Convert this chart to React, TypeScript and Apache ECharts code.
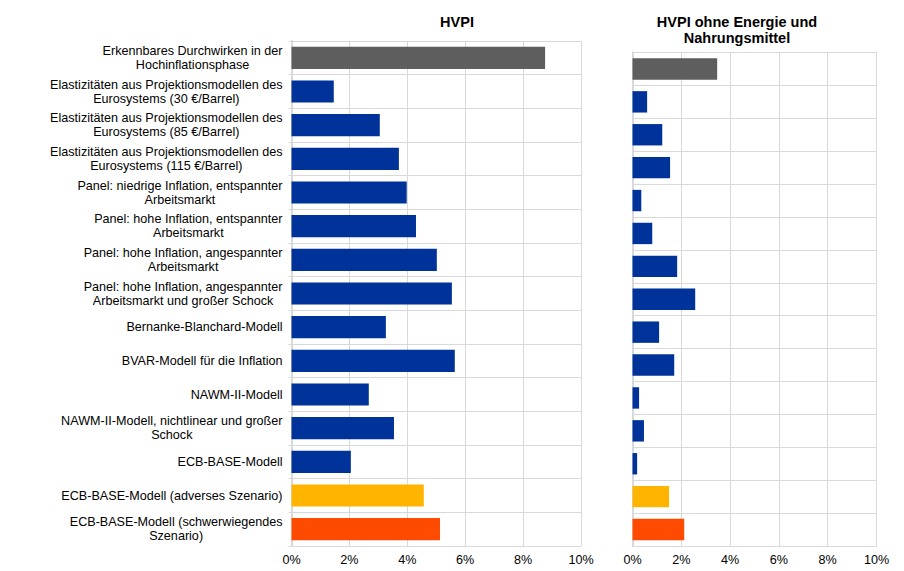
import React, { useEffect, useRef } from "react";
import * as echarts from "echarts";

const categories: string[] = [
  "Erkennbares Durchwirken in der\nHochinflationsphase",
  "Elastizitäten aus Projektionsmodellen des\nEurosystems (30 €/Barrel)",
  "Elastizitäten aus Projektionsmodellen des\nEurosystems (85 €/Barrel)",
  "Elastizitäten aus Projektionsmodellen des\nEurosystems (115 €/Barrel)",
  "Panel: niedrige Inflation, entspannter\nArbeitsmarkt",
  "Panel: hohe Inflation, entspannter\nArbeitsmarkt",
  "Panel: hohe Inflation, angespannter\nArbeitsmarkt",
  "Panel: hohe Inflation, angespannter\nArbeitsmarkt und großer Schock",
  "Bernanke-Blanchard-Modell",
  "BVAR-Modell für die Inflation",
  "NAWM-II-Modell",
  "NAWM-II-Modell, nichtlinear und großer\nSchock",
  "ECB-BASE-Modell",
  "ECB-BASE-Modell (adverses Szenario)",
  "ECB-BASE-Modell (schwerwiegendes\nSzenario)",
];

const groups: string[] = [
  "historisch",
  "modell", "modell", "modell", "modell", "modell", "modell", "modell",
  "modell", "modell", "modell", "modell", "modell",
  "advers",
  "schwer",
];

const hvpiValues: number[] = [8.76, 1.46, 3.05, 3.71, 3.98, 4.3, 5.02, 5.54, 3.26, 5.64, 2.67, 3.54, 2.05, 4.57, 5.13];
const coreValues: number[] = [3.47, 0.6, 1.22, 1.54, 0.36, 0.81, 1.83, 2.57, 1.09, 1.71, 0.27, 0.47, 0.19, 1.5, 2.12];

const xTicks = { min: 0, max: 10, interval: 2 };

const titleLeft = "HVPI";
const titleRight = "HVPI ohne Energie und\nNahrungsmittel";

const palette: Record<string, string> = {
  historisch: "#5e5e5e",
  modell: "#003399",
  advers: "#ffb400",
  schwer: "#ff4b00",
};

const FONT = "'Liberation Sans', Arial, sans-serif";
const GRID_COLOR = "#d9d9d9";
const LABEL_SIZE = 12.6;

export default function App() {
  const ref = useRef<HTMLDivElement>(null);
  useEffect(() => {
    if (!ref.current) return;
    const chart = echarts.init(ref.current, null, { renderer: "svg" });
    const mkData = (vals: number[]) =>
      vals.map((v, i) => ({ value: v, itemStyle: { color: palette[groups[i]] } }));

    const xAxisBase = (gridIndex: number) => ({
      type: "value" as const,
      gridIndex,
      min: xTicks.min,
      max: xTicks.max,
      interval: xTicks.interval,
      axisLine: { show: true, lineStyle: { color: GRID_COLOR, width: 1 } },
      axisTick: { show: false },
      splitLine: { show: true, lineStyle: { color: GRID_COLOR, width: 1 } },
      axisLabel: {
        formatter: "{value}%",
        color: "#000",
        fontFamily: FONT,
        fontSize: LABEL_SIZE,
        margin: 7,
      },
    });

    const yAxisBase = (gridIndex: number, showLabels: boolean) => ({
      type: "category" as const,
      gridIndex,
      data: categories,
      inverse: true,
      axisLine: { show: true, lineStyle: { color: GRID_COLOR, width: 2 } },
      axisTick: { show: showLabels, length: 3, lineStyle: { color: GRID_COLOR, width: 1 } },
      splitLine: { show: true, lineStyle: { color: GRID_COLOR, width: 1 } },
      axisLabel: {
        show: showLabels,
        margin: 9,
        align: "right" as const,
        color: "#000",
        fontFamily: FONT,
        fontSize: LABEL_SIZE,
        lineHeight: 14,
        formatter: (v: string) =>
          v
            .split("\n")
            .map((l) => "{c|" + l + "}")
            .join("\n"),
        rich: {
          c: { align: "center", fontFamily: FONT, fontSize: LABEL_SIZE, lineHeight: 14, color: "#000" },
        },
      },
    });

    const titleStyle = { fontFamily: FONT, fontSize: 14.5, fontWeight: "bold", color: "#000", lineHeight: 16 };

    chart.setOption({
      animation: false,
      backgroundColor: "#fff",
      title: [
        { text: titleLeft, left: 452, top: 9, textAlign: "center", textStyle: titleStyle },
        { text: titleRight, left: 732, top: 9, textAlign: "center", textStyle: titleStyle },
      ],
      grid: [
        { left: 291.5, top: 41, width: 289.5, height: 505 },
        { left: 632.5, top: 52.5, width: 244, height: 493.5 },
      ],
      xAxis: [xAxisBase(0), xAxisBase(1)],
      yAxis: [yAxisBase(0, true), yAxisBase(1, false)],
      series: [
        { type: "bar", xAxisIndex: 0, yAxisIndex: 0, data: mkData(hvpiValues), barWidth: "66%" },
        { type: "bar", xAxisIndex: 1, yAxisIndex: 1, data: mkData(coreValues), barWidth: "65%" },
      ],
    });
    return () => chart.dispose();
  }, []);
  return (
    <div
      ref={ref}
      style={{ position: "fixed", left: 0, top: 0, width: 904, height: 571 }}
    />
  );
}
